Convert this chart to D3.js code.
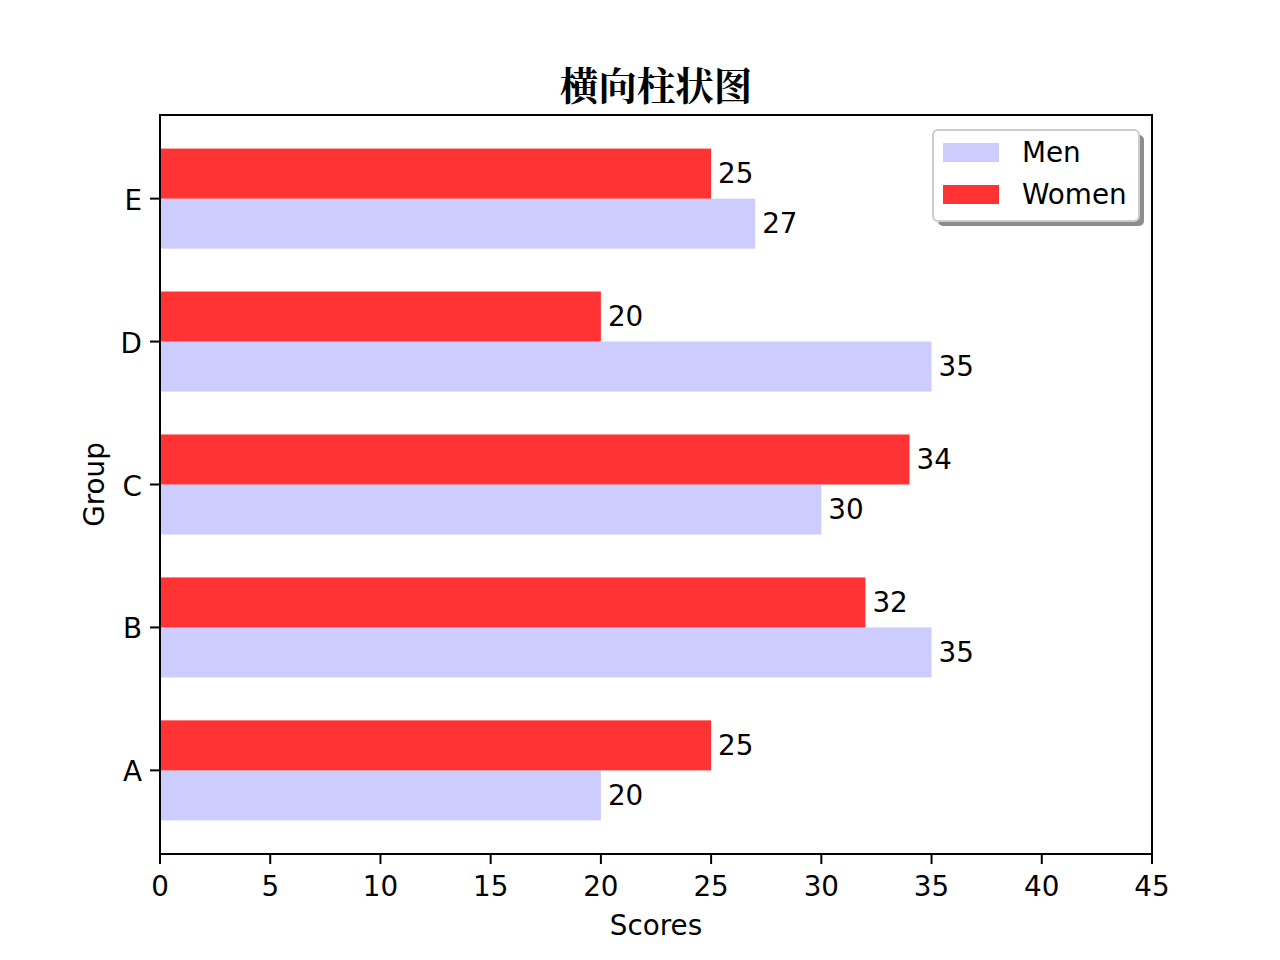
<!DOCTYPE html>
<html><head><meta charset="utf-8">
<script src="https://cdn.jsdelivr.net/npm/d3@7"></script>
<style>body{margin:0;background:#fff}svg{display:block}text{font-family:"DejaVu Sans",sans-serif}</style>
</head><body><svg id="c" width="1280" height="960"></svg>
<script>
const categories = ["A","B","C","D","E"];
const menValues = [20,35,30,35,27];
const womenValues = [25,32,34,20,25];
const xTicks = [0,5,10,15,20,25,30,35,40,45];
const seriesNames = ["Men","Women"];
const colors = {Men:"#ccccff", Women:"#ff3333"};

const svg = d3.select("#c");
const L=160,R=1152,T=115,B=854;
const x = d3.scaleLinear().domain([0,45]).range([L,R]);
const bw = 0.35;
const y = d3.scaleLinear().domain([-bw-0.235, 4+bw+0.235]).range([B,T]);
const fs = 27.8;

svg.append("rect").attr("x",L).attr("y",T).attr("width",R-L).attr("height",B-T).attr("fill","#fff");

const g = svg.append("g");
categories.forEach((c,i)=>{
  g.append("rect").attr("x",x(0)).attr("y",y(i)).attr("width",x(menValues[i])-x(0)).attr("height",y(i-bw)-y(i)).attr("fill",colors.Men);
  g.append("rect").attr("x",x(0)).attr("y",y(i+bw)).attr("width",x(womenValues[i])-x(0)).attr("height",y(i)-y(i+bw)).attr("fill",colors.Women);
  g.append("text").attr("x",x(menValues[i])+7).attr("y",y(i-bw/2)).attr("dy","0.33em").attr("font-size",fs).text(menValues[i]);
  g.append("text").attr("x",x(womenValues[i])+7).attr("y",y(i+bw/2)).attr("dy","0.33em").attr("font-size",fs).text(womenValues[i]);
});

svg.append("rect").attr("x",L).attr("y",T).attr("width",R-L).attr("height",B-T).attr("fill","none").attr("stroke","#000").attr("stroke-width",2);

const xa = svg.append("g");
xTicks.forEach(t=>{
  xa.append("line").attr("x1",x(t)).attr("x2",x(t)).attr("y1",B).attr("y2",B+10).attr("stroke","#000").attr("stroke-width",2);
  xa.append("text").attr("x",x(t)).attr("y",B+32).attr("dy","0.36em").attr("text-anchor","middle").attr("font-size",fs).text(t);
});
categories.forEach((c,i)=>{
  svg.append("line").attr("x1",L-10).attr("x2",L).attr("y1",y(i)).attr("y2",y(i)).attr("stroke","#000").attr("stroke-width",2);
  svg.append("text").attr("x",L-18).attr("y",y(i)+1).attr("dy","0.36em").attr("text-anchor","end").attr("font-size",fs).text(c);
});

svg.append("text").attr("x",(L+R)/2).attr("y",925).attr("dy","0.36em").attr("text-anchor","middle").attr("font-size",fs).text("Scores");
svg.append("text").attr("transform",`translate(94,${(T+B)/2}) rotate(-90)`).attr("dy","0.36em").attr("text-anchor","middle").attr("font-size",fs).text("Group");

svg.append("text").attr("x",656).attr("y",86).attr("dy","0.36em").attr("text-anchor","middle").attr("font-size",38.5).attr("font-weight","bold").style("font-family","'Noto Serif CJK SC','Noto Sans CJK SC',serif").text("横向柱状图");

const lg = svg.append("g");
lg.append("rect").attr("x",938).attr("y",135).attr("width",206).attr("height",91).attr("rx",5).attr("fill","#8c8c8c");
lg.append("rect").attr("x",933).attr("y",130).attr("width",206).attr("height",91).attr("rx",5).attr("fill","#fff").attr("stroke","#ccc").attr("stroke-width",2);
seriesNames.forEach((s,i)=>{
  lg.append("rect").attr("x",943).attr("y",143+i*42).attr("width",56).attr("height",19).attr("fill",colors[s]);
  lg.append("text").attr("x",1022).attr("y",152+i*42).attr("dy","0.36em").attr("font-size",fs).text(s);
});
</script></body></html>
